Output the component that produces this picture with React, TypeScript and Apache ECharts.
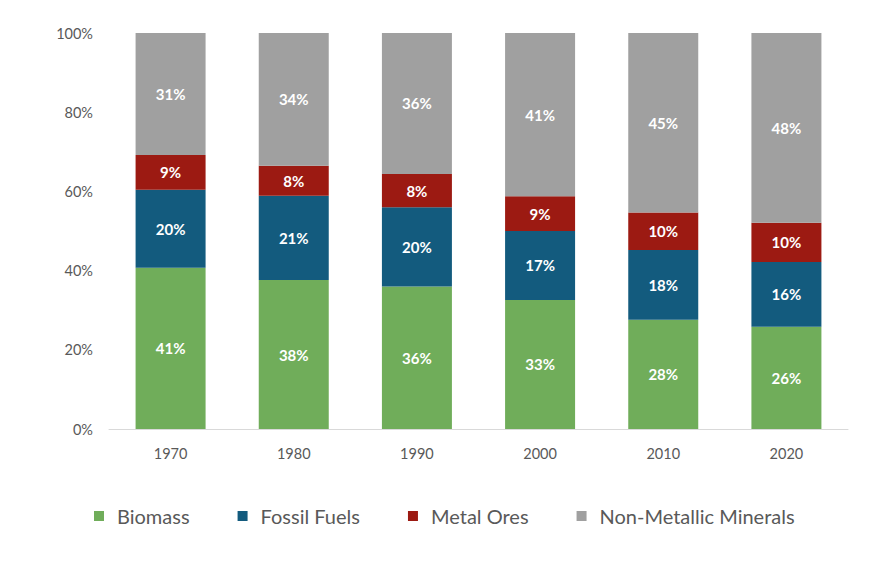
import React, { useEffect, useRef } from "react";
import * as echarts from "echarts";

const years = ["1970", "1980", "1990", "2000", "2010", "2020"];
const biomass = [40.7, 37.6, 36.0, 32.6, 27.6, 25.8];
const fossilFuels = [19.7, 21.3, 20.0, 17.4, 17.6, 16.4];
const metalOres = [8.8, 7.6, 8.4, 8.8, 9.5, 9.9];
const nonMetallic = [30.8, 33.5, 35.6, 41.2, 45.3, 47.9];
const yTicks = [0, 20, 40, 60, 80, 100];

const seriesDefs = [
  { name: "Biomass", data: biomass, color: "#70ad5a" },
  { name: "Fossil Fuels", data: fossilFuels, color: "#135b7e" },
  { name: "Metal Ores", data: metalOres, color: "#9c1a12" },
  { name: "Non-Metallic Minerals", data: nonMetallic, color: "#a0a0a0" },
];

const FONT = "Lato, 'Open Sans', sans-serif";

export default function App() {
  const ref = useRef<HTMLDivElement>(null);
  useEffect(() => {
    if (!ref.current) return;
    const chart = echarts.init(ref.current, null, { renderer: "svg" });
    chart.setOption({
      animation: false,
      backgroundColor: "#ffffff",
      grid: { left: 109, right: 27, top: 33, bottom: 133, containLabel: false },
      legend: {
        top: 501,
        left: 89,
        itemWidth: 10,
        itemHeight: 10,
        itemGap: 48,
        icon: "rect",
        textStyle: { color: "#595959", fontSize: 20, fontFamily: FONT, padding: [0, 0, 0, 8] },
        data: seriesDefs.map((s) => s.name),
      },
      xAxis: {
        type: "category",
        data: years,
        axisLine: { show: true, lineStyle: { color: "#d9d9d9", width: 1 } },
        axisTick: { show: false },
        axisLabel: { color: "#595959", fontSize: 14.5, fontFamily: FONT, margin: 17 },
      },
      yAxis: {
        type: "value",
        min: yTicks[0],
        max: yTicks[yTicks.length - 1],
        interval: 20,
        axisLine: { show: false },
        axisTick: { show: false },
        splitLine: { show: false },
        axisLabel: {
          color: "#595959",
          fontSize: 14.5,
          fontFamily: FONT,
          margin: 16,
          formatter: (v: number) => `${v}%`,
        },
      },
      series: seriesDefs.map((s) => ({
        name: s.name,
        type: "bar",
        stack: "total",
        barWidth: 70,
        data: s.data,
        itemStyle: { color: s.color },
        label: {
          show: true,
          position: "inside",
          color: "#ffffff",
          fontSize: 15,
          fontWeight: "bold",
          fontFamily: FONT,
          formatter: (p: any) => `${Math.round(p.value)}%`,
        },
      })),
    });
    return () => chart.dispose();
  }, []);
  return <div ref={ref} style={{ width: 875, height: 562, margin: -8 }} />;
}
